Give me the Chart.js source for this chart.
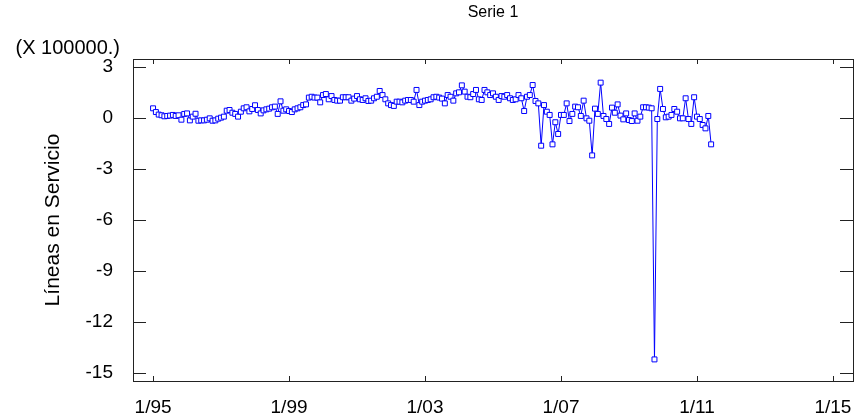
<!DOCTYPE html>
<html>
<head>
<meta charset="utf-8">
<script src="https://cdn.jsdelivr.net/npm/chart.js@4.4.1/dist/chart.umd.min.js"></script>
<style>
  body { margin: 0; background: #fff; }
</style>
</head>
<body>
<canvas id="grafico" width="859" height="415"></canvas>
<script>
// Líneas en servicio, serie mensual desde 1/95 (en unidades de 100000)
const inicio = 1995;
const v1995 = [0.57, 0.35, 0.20, 0.16, 0.10, 0.12, 0.14, 0.18, 0.12, 0.16, -0.10, 0.24];
const v1996 = [0.27, -0.14, 0.08, 0.25, -0.16, -0.14, -0.14, -0.10, -0.02, -0.16, -0.14, -0.04];
const v1997 = [0.02, 0.08, 0.43, 0.47, 0.31, 0.24, 0.08, 0.37, 0.57, 0.63, 0.39, 0.53];
const v1998 = [0.75, 0.47, 0.27, 0.45, 0.51, 0.55, 0.63, 0.67, 0.24, 0.98, 0.43, 0.51];
const v1999 = [0.41, 0.35, 0.51, 0.57, 0.63, 0.76, 0.80, 1.20, 1.25, 1.20, 1.20, 0.92];
const v2000 = [1.35, 1.41, 1.10, 1.29, 1.06, 1.02, 1.02, 1.22, 1.22, 1.22, 1.02, 1.14];
const v2001 = [1.29, 1.10, 1.06, 1.16, 1.00, 1.02, 1.16, 1.25, 1.59, 1.35, 1.10, 0.86];
const v2002 = [0.76, 0.71, 0.96, 0.96, 0.92, 1.02, 1.06, 1.06, 0.96, 1.65, 0.76, 0.96];
const v2003 = [1.02, 1.06, 1.10, 1.22, 1.25, 1.20, 1.14, 0.86, 1.35, 1.25, 1.02, 1.45];
const v2004 = [1.51, 1.92, 1.55, 1.25, 1.22, 1.41, 1.65, 1.10, 1.06, 1.65, 1.51, 1.35];
const v2005 = [1.45, 1.25, 1.06, 1.29, 1.25, 1.35, 1.16, 1.06, 1.10, 1.35, 1.16, 0.41];
const v2006 = [1.25, 1.35, 1.94, 1.00, 0.86, -1.63, 0.76, 0.37, 0.18, -1.55, -0.25, -0.94];
const v2007 = [0.18, 0.18, 0.86, -0.18, 0.24, 0.67, 0.63, 0.12, 1.02, -0.02, -0.16, -2.20];
const v2008 = [0.55, 0.24, 2.08, 0.12, -0.06, -0.35, 0.61, 0.31, 0.80, 0.14, -0.08, 0.27];
const v2009 = [-0.12, -0.18, 0.27, -0.16, 0.08, 0.63, 0.63, 0.61, 0.57, -14.20, -0.06, 1.71];
const v2010 = [0.53, 0.04, 0.08, 0.18, 0.53, 0.37, -0.02, -0.02, 1.16, -0.06, -0.35, 1.22];
const v2011 = [0.08, -0.06, -0.41, -0.61, 0.12, -1.55];

const xTicks = [1995, 1999, 2003, 2007, 2011, 2015];
const xLabels = ['1/95', '1/99', '1/03', '1/07', '1/11', '1/15'];
const yTicks = [3, 0, -3, -6, -9, -12, -15];

const lineas = [].concat(v1995, v1996, v1997, v1998, v1999, v2000, v2001, v2002,
  v2003, v2004, v2005, v2006, v2007, v2008, v2009, v2010, v2011);
const puntos = lineas.map((v, i) => ({ x: inicio + i / 12, y: v }));

const fuente = '"Liberation Sans", Arial, sans-serif';
Chart.defaults.font.family = fuente;
Chart.defaults.color = '#000';

// marco con marcas hacia dentro en los cuatro lados, y el factor de escala
const marco = {
  id: 'marco',
  afterDatasetsDraw(chart) {
    const { ctx, chartArea: a, scales: { x, y } } = chart;
    ctx.save();
    ctx.strokeStyle = '#222';
    ctx.lineWidth = 1;
    ctx.strokeRect(a.left + 0.5, a.top + 0.5, a.right - a.left, a.bottom - a.top);
    ctx.beginPath();
    yTicks.forEach(v => {
      const py = Math.round(y.getPixelForValue(v)) + 0.5;
      ctx.moveTo(a.left, py); ctx.lineTo(a.left + 13, py);
      ctx.moveTo(a.right, py); ctx.lineTo(a.right - 13, py);
    });
    xTicks.forEach(v => {
      const px = Math.round(x.getPixelForValue(v)) + 0.5;
      ctx.moveTo(px, a.top); ctx.lineTo(px, a.top + 5);
      ctx.moveTo(px, a.bottom); ctx.lineTo(px, a.bottom - 5);
    });
    ctx.stroke();
    ctx.font = '20px ' + fuente;
    ctx.fillStyle = '#000';
    ctx.textAlign = 'right';
    ctx.fillText('(X 100000.)', 120, 54);
    ctx.restore();
  }
};

new Chart(document.getElementById('grafico'), {
  type: 'line',
  data: {
    datasets: [{
      label: 'Serie 1',
      data: puntos,
      borderColor: '#0000ff',
      borderWidth: 1,
      pointStyle: 'rect',
      pointRadius: 3.5,
      pointBorderWidth: 1,
      pointBorderColor: '#0000ff',
      pointBackgroundColor: '#ffffff',
      tension: 0
    }]
  },
  options: {
    responsive: false,
    animation: false,
    layout: { padding: { left: 0, right: 6, top: 0, bottom: 0 } },
    plugins: {
      legend: { display: false },
      tooltip: { enabled: false },
      title: {
        display: true,
        text: 'Serie 1',
        fullSize: false,
        font: { size: 16, weight: 'normal' },
        padding: { top: 3, bottom: 36.8 }
      }
    },
    scales: {
      x: {
        type: 'linear',
        min: 1994.41,
        max: 2015.59,
        grid: { display: false },
        border: { display: false },
        afterBuildTicks: s => { s.ticks = xTicks.map(v => ({ value: v })); },
        afterFit: s => { s.height = 34; s.paddingLeft = 0; s.paddingRight = 0; },
        ticks: {
          padding: 7,
          maxRotation: 0,
          font: { size: 19 },
          callback: v => xLabels[xTicks.indexOf(v)]
        }
      },
      y: {
        min: -15.47,
        max: 3.47,
        grid: { display: false },
        border: { display: false },
        afterBuildTicks: s => { s.ticks = yTicks.map(v => ({ value: v })); },
        afterFit: s => { s.width = 133; s.paddingTop = 0; s.paddingBottom = 0; },
        ticks: {
          padding: 12,
          font: { size: 19 },
          callback: v => String(v)
        },
        title: {
          display: true,
          text: 'Líneas en Servicio',
          font: { size: 21 },
          padding: { top: 41, bottom: 0 }
        }
      }
    }
  },
  plugins: [marco]
});
</script>
</body>
</html>
